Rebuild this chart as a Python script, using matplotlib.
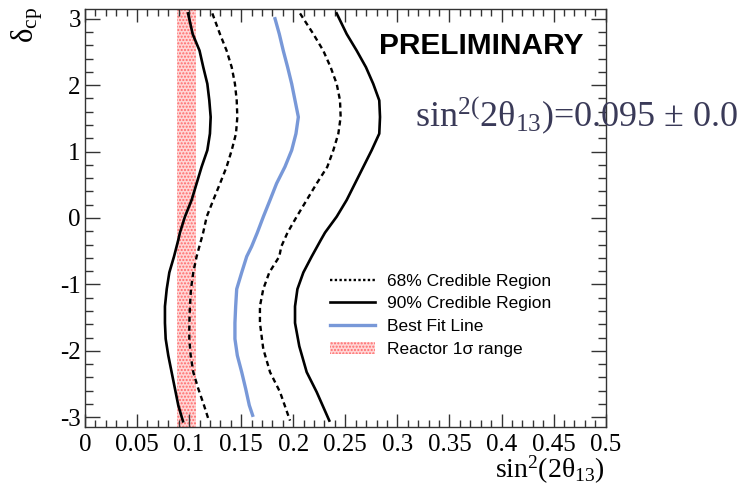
import matplotlib
matplotlib.use("Agg")
import matplotlib.pyplot as plt
from matplotlib.lines import Line2D
from matplotlib.patches import Patch
from matplotlib.ticker import MultipleLocator

plt.rcParams['font.family'] = ['Liberation Serif', 'DejaVu Serif']
plt.rcParams['mathtext.fontset'] = 'custom'
plt.rcParams['mathtext.rm'] = 'Liberation Serif'
plt.rcParams['mathtext.it'] = 'Liberation Serif:italic'

# contours: (delta_cp, sin^2(2theta13))
d90_left = [3.08, 2.77, 2.52, 2.27, 2.02, 1.77, 1.52, 1.27, 1.02, 0.77, 0.52, 0.27, 0.02,
            -0.22, -0.33, -0.58, -0.82, -1.07, -1.33, -1.58, -1.82, -2.07, -2.32, -2.57, -2.82, -3.06]
s90_left = [0.099, 0.1034, 0.110, 0.1136, 0.1175, 0.1194, 0.1207, 0.120, 0.1175, 0.112, 0.1072, 0.1024, 0.096,
            0.0912, 0.0896, 0.0855, 0.081, 0.0785, 0.0768, 0.0768, 0.0775, 0.080, 0.0832, 0.0864, 0.0896, 0.0941]

d68_left = [3.08, 2.77, 2.52, 2.27, 2.02, 1.77, 1.52, 1.27, 1.02, 0.77, 0.52, 0.27, 0.02,
            -0.22, -0.58, -0.82, -1.07, -1.33, -1.58, -1.82, -2.07, -2.32, -2.57, -2.82, -3.05]
s68_left = [0.1223, 0.1296, 0.136, 0.1409, 0.144, 0.1457, 0.1463, 0.145, 0.1409, 0.136, 0.1297, 0.1232, 0.1169,
            0.1135, 0.1072, 0.104, 0.1018, 0.1008, 0.1002, 0.1002, 0.1015, 0.104, 0.1088, 0.1143, 0.119]

d_best = [3.00, 2.77, 2.52, 2.27, 2.02, 1.77, 1.52, 1.27, 1.02, 0.77, 0.52, 0.27, 0.02,
          -0.22, -0.43, -0.58, -0.82, -1.07, -1.33, -1.58, -1.82, -2.07, -2.32, -2.57, -2.82, -2.97]
s_best = [0.1825, 0.1866, 0.1904, 0.1946, 0.1985, 0.2017, 0.2049, 0.2026, 0.1985, 0.192, 0.184, 0.1777, 0.1713,
          0.1655, 0.160, 0.1553, 0.1505, 0.1457, 0.1447, 0.144, 0.144, 0.1463, 0.1505, 0.1543, 0.1578, 0.161]

d68_right = [3.08, 2.77, 2.52, 2.27, 2.02, 1.77, 1.52, 1.27, 1.02, 0.77, 0.52, 0.27, 0.02,
             -0.22, -0.43, -0.58, -0.82, -1.07, -1.33, -1.58, -1.97, -2.32, -2.62, -3.05]
s68_right = [0.2065, 0.2193, 0.2288, 0.2359, 0.2417, 0.2449, 0.2455, 0.2433, 0.2385, 0.2327, 0.2225, 0.2129, 0.2033,
             0.1945, 0.1885, 0.1866, 0.177, 0.1712, 0.168, 0.168, 0.1712, 0.1777, 0.1873, 0.1969]

d90_right = [3.08, 2.77, 2.52, 2.27, 2.02, 1.77, 1.52, 1.27, 1.02, 0.77, 0.52, 0.27, 0.02,
             -0.22, -0.33, -0.58, -0.82, -1.07, -1.33, -1.58, -1.93, -2.32, -2.62, -3.05]
s90_right = [0.2417, 0.2513, 0.2609, 0.2698, 0.2768, 0.2826, 0.2833, 0.2826, 0.2753, 0.2673, 0.2593, 0.2513, 0.2417,
             0.2305, 0.2265, 0.2177, 0.2097, 0.204, 0.2017, 0.2017, 0.2058, 0.2129, 0.2225, 0.2346]

reactor_lo, reactor_hi = 0.088, 0.107

x_ticks = [0, 0.05, 0.1, 0.15, 0.2, 0.25, 0.3, 0.35, 0.4, 0.45, 0.5]
x_labels = ['0', '0.05', '0.1', '0.15', '0.2', '0.25', '0.3', '0.35', '0.4', '0.45', '0.5']
y_ticks = [-3, -2, -1, 0, 1, 2, 3]
y_labels = ['-3', '-2', '-1', '0', '1', '2', '3']

fig = plt.figure(figsize=(7.46, 4.95), dpi=100)
ax = fig.add_axes([0.1139, 0.138, 0.698, 0.8432])

band_face, band_hatch = '#ffd6d6', '#ff6a6a'
ax.axvspan(reactor_lo, reactor_hi, facecolor=band_face, edgecolor=band_hatch, hatch='.....', lw=0, zorder=1)

blue = '#7898d8'
dash = (0, (2.2, 1.6))
ax.plot(s90_left, d90_left, color='black', lw=1.9, zorder=3)
ax.plot(s90_right, d90_right, color='black', lw=1.9, zorder=3)
ax.plot(s68_left, d68_left, color='black', lw=1.7, ls=dash, zorder=3)
ax.plot(s68_right, d68_right, color='black', lw=1.7, ls=dash, zorder=3)
ax.plot(s_best, d_best, color=blue, lw=2.4, zorder=3)

ax.set_xlim(0, 0.5)
ax.set_ylim(-3.1416, 3.1416)
ax.set_xticks(x_ticks)
ax.set_xticklabels(x_labels)
ax.set_yticks(y_ticks)
ax.set_yticklabels(y_labels)
ax.xaxis.set_minor_locator(MultipleLocator(0.01))
ax.yaxis.set_minor_locator(MultipleLocator(0.2))
ax.tick_params(which='both', direction='in', top=True, right=True, labelsize=18, color='#333333')
ax.tick_params(axis='x', which='major', length=9.5, width=1, pad=5)
ax.tick_params(axis='x', which='minor', length=5, width=1)
ax.tick_params(axis='y', which='major', length=10.5, width=1, pad=3)
ax.tick_params(axis='y', which='minor', length=5.5, width=1)
for sp in ax.spines.values():
    sp.set_color('#333333')
    sp.set_linewidth(1)

fig.text(0.811, 0.018, r'sin$^{2}$(2θ$_{13}$)', ha='right', va='bottom', fontsize=20)
fig.text(0.012, 0.985, r'δ$_{\rm cp}$', ha='left', va='top', rotation=90, fontsize=22)

ax.text(0.958, 0.913, 'PRELIMINARY', transform=ax.transAxes, ha='right', va='center',
        fontsize=21.5, fontweight='bold', family='Liberation Sans')
# the reference shows this label running off the right edge; keep the visible part
fig.text(0.556, 0.768, r'sin$^{2(}$2θ$_{13}$)=0.095 ± 0.0', ha='left', va='center',
         fontsize=26, color='#3a3a58')

handles = [Line2D([], [], color='black', lw=1.7, ls=(0, (1, 1))),
           Line2D([], [], color='black', lw=1.9),
           Line2D([], [], color=blue, lw=2.4),
           Patch(facecolor=band_face, edgecolor=band_hatch, hatch='.....', lw=0)]
labels = ['68% Credible Region', '90% Credible Region', 'Best Fit Line', 'Reactor 1σ range']
ax.legend(handles, labels, loc='upper left', bbox_to_anchor=(0.4705, 0.367), frameon=False,
          prop={'family': 'Liberation Sans', 'size': 12.5}, handlelength=2.6, handletextpad=0.67,
          labelspacing=0.44, borderaxespad=0, borderpad=0)

plt.savefig('out.png', dpi=100)
